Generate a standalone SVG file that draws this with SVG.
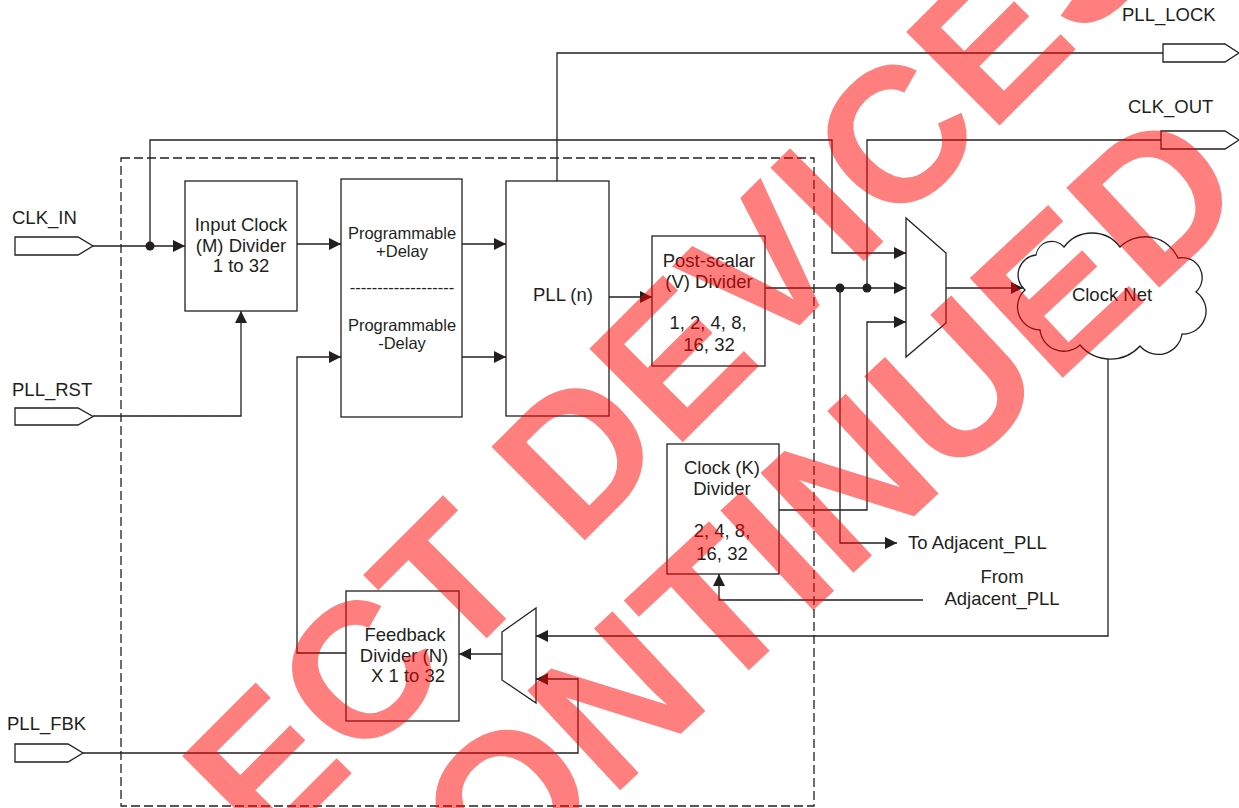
<svg xmlns="http://www.w3.org/2000/svg" width="1239" height="808" viewBox="0 0 1239 808">
<defs>
<style>
.ln{fill:none;stroke:#231f20;stroke-width:1.3}
.bx{fill:#fff;stroke:#231f20;stroke-width:1.3}
.t{font-family:"Liberation Sans",Arial,sans-serif;font-size:18.5px;fill:#231f20}
.s{font-size:16.5px}
.m{text-anchor:middle}
.dot{fill:#231f20}
.wm{font-family:"Liberation Sans",Arial,sans-serif;font-weight:bold;font-size:192px;fill:#ff0000;fill-opacity:0.5;text-anchor:middle}
</style>
<marker id="ar" viewBox="0 0 12 12" refX="12" refY="6" markerWidth="12" markerHeight="12" markerUnits="userSpaceOnUse" orient="auto">
<path d="M0,0 L12,6 L0,12 z" fill="#231f20"/>
</marker>
</defs>
<rect width="1239" height="808" fill="#fff"/>
<rect x="121" y="158" width="693" height="648" fill="none" stroke="#231f20" stroke-width="1.3" stroke-dasharray="9 4"/>

<g id="connectors">
<path class="ln" d="M93,246 H185" marker-end="url(#ar)"/>
<path class="ln" d="M150,246 V140 H832 V253 H906" marker-end="url(#ar)"/>
<path class="ln" d="M297,244 H341" marker-end="url(#ar)"/>
<path class="ln" d="M462,244 H506" marker-end="url(#ar)"/>
<path class="ln" d="M462,357 H506" marker-end="url(#ar)"/>
<path class="ln" d="M93,416 H241 V311" marker-end="url(#ar)"/>
<path class="ln" d="M557,181 V53 H1163"/>
<path class="ln" d="M609,297 H652" marker-end="url(#ar)"/>
<path class="ln" d="M765,288 H906" marker-end="url(#ar)"/>
<path class="ln" d="M867,288 V140 H1161"/>
<path class="ln" d="M840,288 V543 H897" marker-end="url(#ar)"/>
<path class="ln" d="M779,510 H867 V322 H906" marker-end="url(#ar)"/>
<path class="ln" d="M946,288 H1023" marker-end="url(#ar)"/>
<path class="ln" d="M1108,358 V636 H536" marker-end="url(#ar)"/>
<path class="ln" d="M923,600 H719 V574" marker-end="url(#ar)"/>
<path class="ln" d="M502,654 H459" marker-end="url(#ar)"/>
<path class="ln" d="M83,753 H578 V679 H536" marker-end="url(#ar)"/>
<path class="ln" d="M346,653 H297 V357 H341" marker-end="url(#ar)"/>
<circle class="dot" cx="150" cy="246" r="4.5"/>
<circle class="dot" cx="840" cy="288" r="4.5"/>
<circle class="dot" cx="867" cy="288" r="4.5"/>
</g>

<g id="clk_in">
<path class="bx" d="M15,237 H78 L93,246 L78,255 H15 Z"/>
<text class="t" x="12" y="224">CLK_IN</text>
</g>
<g id="pll_rst">
<path class="bx" d="M15,408 H78 L93,416.5 L78,425 H15 Z"/>
<text class="t" x="12" y="396">PLL_RST</text>
</g>
<g id="pll_fbk">
<path class="bx" d="M15,744 H68 L83,753 L68,762 H15 Z"/>
<text class="t" x="7" y="730">PLL_FBK</text>
</g>
<g id="pll_lock">
<path class="bx" d="M1163,44 H1225 L1239,53 L1225,62 H1163 Z"/>
<text class="t" x="1122" y="21">PLL_LOCK</text>
</g>
<g id="clk_out">
<path class="bx" d="M1161,131 H1225 L1239,140 L1225,149 H1161 Z"/>
<text class="t" x="1128" y="113">CLK_OUT</text>
</g>

<g id="input_divider">
<rect class="bx" x="185" y="181" width="112" height="130"/>
<text class="t m" x="241" y="231">Input Clock</text>
<text class="t m" x="241" y="252">(M) Divider</text>
<text class="t m" x="241" y="272">1 to 32</text>
</g>
<g id="delay">
<rect class="bx" x="341" y="179" width="121" height="238"/>
<text class="t s m" x="402" y="239">Programmable</text>
<text class="t s m" x="402" y="257">+Delay</text>
<text class="t s m" x="402" y="293">-------------------</text>
<text class="t s m" x="402" y="331">Programmable</text>
<text class="t s m" x="402" y="349">-Delay</text>
</g>
<g id="pll">
<rect class="bx" x="506" y="181" width="103" height="235"/>
<text class="t m" x="563" y="301">PLL (n)</text>
</g>
<g id="postscalar">
<rect class="bx" x="652" y="236" width="113" height="130"/>
<text class="t m" x="709" y="267">Post-scalar</text>
<text class="t m" x="709" y="288">(V) Divider</text>
<text class="t m" x="708" y="329">1, 2, 4, 8,</text>
<text class="t m" x="709" y="351">16, 32</text>
</g>
<g id="k_divider">
<rect class="bx" x="667" y="444" width="112" height="130"/>
<text class="t m" x="722" y="474">Clock (K)</text>
<text class="t m" x="722" y="495">Divider</text>
<text class="t m" x="722" y="537">2, 4, 8,</text>
<text class="t m" x="722" y="560">16, 32</text>
</g>
<g id="feedback">
<rect class="bx" x="346" y="591" width="113" height="130"/>
<text class="t m" x="405" y="641">Feedback</text>
<text class="t m" x="404" y="662">Divider (N)</text>
<text class="t m" x="408" y="682">X 1 to 32</text>
</g>
<g id="mux_out">
<path class="bx" d="M906,218 L946,253 V323 L906,357 Z"/>
</g>
<g id="mux_fb">
<path class="bx" d="M536,608 V703 L502,680 V632 Z"/>
</g>
<g id="clock_net">
<path class="bx" d="M1025,290 A20,20 0 0 1 1036,255 A16,16 0 0 1 1064,247 A35,35 0 0 1 1120,247 A36,36 0 0 1 1178,258 A20,20 0 0 1 1196,292 A23,23 0 0 1 1182,334 A24,24 0 0 1 1140,346 A40,40 0 0 1 1080,345 A24,24 0 0 1 1040,330 A23,23 0 0 1 1025,290 Z"/>
<text class="t m" x="1112" y="301">Clock Net</text>
</g>
<g id="labels">
<text class="t" x="908" y="549">To Adjacent_PLL</text>
<text class="t m" x="1002" y="583">From</text>
<text class="t m" x="1002" y="605">Adjacent_PLL</text>
</g>

<g id="watermark">
<text class="wm" transform="translate(587,538) rotate(-45)">SELECT DEVICES</text>
<text class="wm" style="font-size:198px" transform="translate(703,713) rotate(-43)">DISCONTINUED</text>
</g>
</svg>
